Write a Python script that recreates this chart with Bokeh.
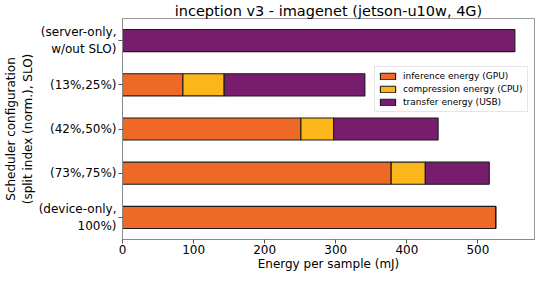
from bokeh.plotting import figure
from bokeh.models import ColumnDataSource, FactorRange, Range1d, FixedTicker, Legend
from bokeh.embed import file_html
from bokeh.resources import INLINE

# ---- data ----
configs = ["(server-only,\nw/out SLO)", "(13%,25%)", "(42%,50%)", "(73%,75%)", "(device-only,\n100%)"]
inference = [0, 85, 251, 378, 525]
compression = [0, 58, 46, 48, 0]
transfer = [552, 198, 147, 90, 0]
series_names = ["inference", "compression", "transfer"]
series_labels = ["inference energy (GPU)", "compression energy (CPU)", "transfer energy (USB)"]
series_colors = ["#ed6925", "#fbb61a", "#781c6d"]
x_ticks = [0, 100, 200, 300, 400, 500]

FONT = "DejaVu Sans"

source = ColumnDataSource(dict(config=configs, inference=inference,
                               compression=compression, transfer=transfer))

totals = [a + b + c for a, b, c in zip(inference, compression, transfer)]
p = figure(frame_width=412, frame_height=221, output_backend="svg", toolbar_location=None,
           y_range=FactorRange(factors=list(reversed(configs))),
           x_range=Range1d(0, max(totals) * 1.05),
           title="inception v3 - imagenet (jetson-u10w, 4G)")

renderers = p.hbar_stack(series_names, y="config", height=0.5, source=source,
                         fill_color=series_colors, line_color="#1a1a1a", line_width=1.1)

legend = Legend(items=[(lbl, [r]) for lbl, r in zip(series_labels, renderers)])
legend.location = (252, 127)
legend.label_text_font = FONT
legend.label_text_font_size = "9px"
legend.label_text_color = "black"
legend.label_width = 121
legend.glyph_width = 19
legend.glyph_height = 8
legend.label_height = 12
legend.label_standoff = 6
legend.spacing = 1
legend.padding = 3
legend.margin = 0
legend.border_line_color = "#cccccc"
legend.border_line_width = 1
legend.background_fill_alpha = 1
p.add_layout(legend, "center")

p.title.align = "center"
p.title.text_font = FONT
p.title.text_font_size = "14.5px"
p.title.text_font_style = "normal"
p.title.text_color = "black"
p.title.standoff = 0
p.title.offset = 0

p.xaxis.ticker = FixedTicker(ticks=x_ticks)
p.xaxis.axis_label = "Energy per sample (mJ)"
p.yaxis.axis_label = "Scheduler configuration\n(split index (norm.), SLO)"

for ax in (p.xaxis, p.yaxis):
    ax.axis_label_text_font = FONT
    ax.axis_label_text_font_size = "12px"
    ax.axis_label_text_font_style = "normal"
    ax.axis_label_text_color = "black"
    ax.major_label_text_font = FONT
    ax.major_label_text_font_size = "12px"
    ax.major_label_text_color = "black"
    ax.axis_line_color = "#888888"
    ax.major_tick_line_color = "#555555"
    ax.major_tick_out = 4
    ax.major_tick_in = 0
    ax.minor_tick_line_color = None
    ax.major_label_standoff = 2
    ax.axis_label_standoff = 1

p.xaxis.major_label_standoff = 1
p.xaxis.axis_label_standoff = 0
p.yaxis.major_label_orientation = "horizontal"
p.xgrid.grid_line_color = None
p.ygrid.grid_line_color = None
p.outline_line_color = "#999999"
p.min_border_left = 100
p.min_border_right = 2
p.min_border_top = 0
p.min_border_bottom = 0

open("out.html", "w").write(file_html(p, INLINE))
